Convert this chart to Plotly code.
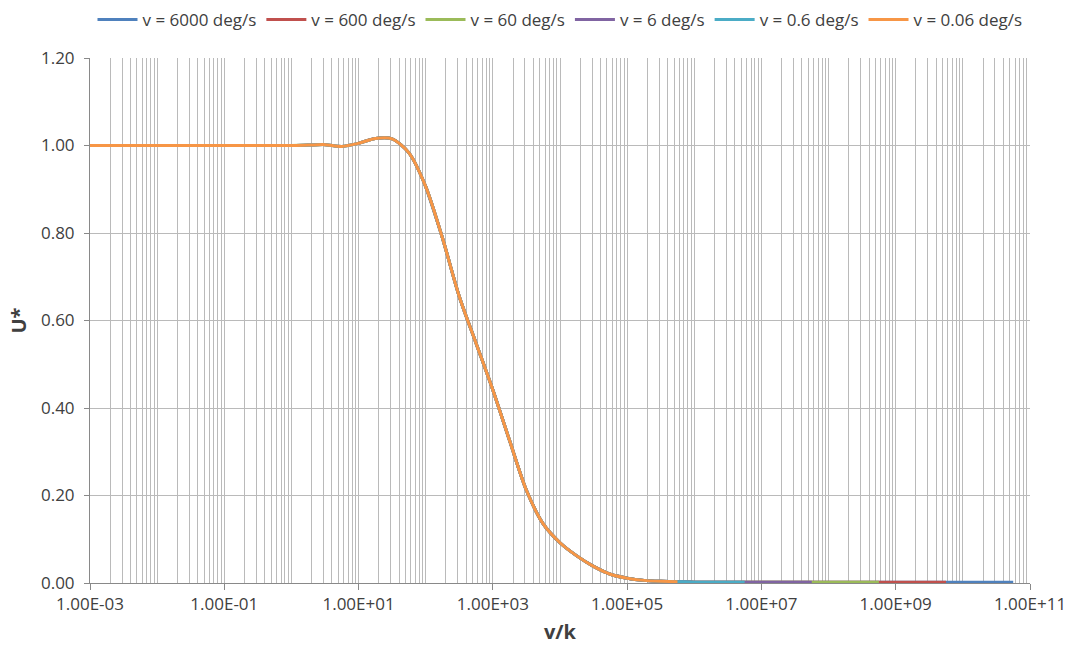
import plotly.graph_objects as go

# v/k grid (quarter decades) and the shared U* curve
VK = [1e-3, 1.78e-3, 3.16e-3, 5.62e-3,
      1e-2, 1.78e-2, 3.16e-2, 5.62e-2,
      1e-1, 1.78e-1, 3.16e-1, 5.62e-1,
      1e0, 1.78e0, 3.16e0, 5.62e0,
      1e1, 1.78e1, 3.16e1, 5.62e1,
      1e2, 1.78e2, 3.16e2, 5.62e2,
      1e3, 1.78e3, 3.16e3, 5.62e3,
      1e4, 1.78e4, 3.16e4, 5.62e4,
      1e5, 1.78e5, 3.16e5, 5.62e5,
      1e6, 1.78e6, 3.16e6, 5.62e6,
      1e7, 1.78e7, 3.16e7, 5.62e7,
      1e8, 1.78e8, 3.16e8, 5.62e8,
      1e9, 1.78e9, 3.16e9, 5.62e9,
      1e10, 1.78e10, 3.16e10, 5.62e10,
      1e11]
U_STAR = [1.000, 1.000, 1.000, 1.000,
          1.000, 1.000, 1.000, 1.000,
          1.000, 1.000, 1.000, 1.000,
          1.000, 1.001, 1.002, 0.998,
          1.005, 1.016, 1.015, 0.983,
          0.906, 0.788, 0.655, 0.548,
          0.441, 0.325, 0.212, 0.135,
          0.092, 0.062, 0.038, 0.020,
          0.011, 0.006, 0.004, 0.003,
          0.002, 0.002, 0.002, 0.002,
          0.002, 0.002, 0.002, 0.002,
          0.002, 0.002, 0.002, 0.002,
          0.002, 0.002, 0.002, 0.002,
          0.002, 0.002, 0.002, 0.002,
          0.002]

SPEEDS = [6000, 600, 60, 6, 0.6, 0.06]
NAMES = ["v = 6000 deg/s", "v = 600 deg/s", "v = 60 deg/s",
         "v = 6 deg/s", "v = 0.6 deg/s", "v = 0.06 deg/s"]
COLORS = ["#4F81BD", "#C0504D", "#9BBB59", "#8064A2", "#4BACC6", "#F79646"]
K_MAX = 60.0    # largest k in each series
K_MIN = 1e-7    # smallest k in each series

X_TICKS = [1e-3, 1e-1, 1e1, 1e3, 1e5, 1e7, 1e9, 1e11]
X_TICK_TEXT = ["1.00E-03", "1.00E-01", "1.00E+01", "1.00E+03",
               "1.00E+05", "1.00E+07", "1.00E+09", "1.00E+11"]
MINOR_VALS = [m * 10.0 ** e for e in range(-3, 11) for m in range(1, 10)]

FONT = "Open Sans"
GRID = "#BABABA"
AXIS = "#898989"
TXT = "#404040"

fig = go.Figure()
for v, name, col in zip(SPEEDS, NAMES, COLORS):
    lo, hi = v / K_MAX, v / K_MIN
    sel = [(x, u) for x, u in zip(VK, U_STAR) if lo * 0.999 <= x <= hi * 1.001]
    fig.add_trace(go.Scatter(x=[p[0] for p in sel], y=[p[1] for p in sel],
                             mode="lines", name=name,
                             line=dict(color=col, width=3, shape="spline", smoothing=0.8)))

fig.update_layout(
    width=1073, height=653,
    margin=dict(l=90, r=43, t=58, b=70, autoexpand=False),
    paper_bgcolor="white", plot_bgcolor="white",
    font=dict(family=FONT, size=17, color=TXT),
    legend=dict(orientation="h", x=0.5, xanchor="center", y=0.997, yanchor="top",
                yref="container", font=dict(family=FONT, size=17, color=TXT),
                itemwidth=40, traceorder="normal"),
    showlegend=True,
)

fig.update_xaxes(
    type="log", range=[-3, 11], automargin=False,
    tickvals=X_TICKS, ticktext=X_TICK_TEXT,
    showgrid=True, gridcolor=GRID, gridwidth=1,
    showline=True, linecolor=AXIS, linewidth=1,
    ticks="outside", ticklen=6, tickcolor=AXIS,
    minor=dict(tickvals=MINOR_VALS, showgrid=True, gridcolor=GRID, gridwidth=1, ticks=""),
    zeroline=False,
    title=dict(text="<b>v/k</b>", font=dict(family=FONT, size=20, color=TXT), standoff=10),
    tickfont=dict(family=FONT, size=17, color=TXT),
)
fig.update_yaxes(
    range=[0, 1.2], automargin=False,
    tickvals=[0, 0.2, 0.4, 0.6, 0.8, 1.0, 1.2], tickformat=".2f",
    showgrid=True, gridcolor=GRID, gridwidth=1,
    showline=True, linecolor=AXIS, linewidth=1,
    ticks="outside", ticklen=5, tickcolor=AXIS,
    ticklabelstandoff=6,
    zeroline=False,
    title=dict(text="<b>U*</b>", font=dict(family=FONT, size=20, color=TXT), standoff=8),
    tickfont=dict(family=FONT, size=17, color=TXT),
)

fig.write_html("out.html")
